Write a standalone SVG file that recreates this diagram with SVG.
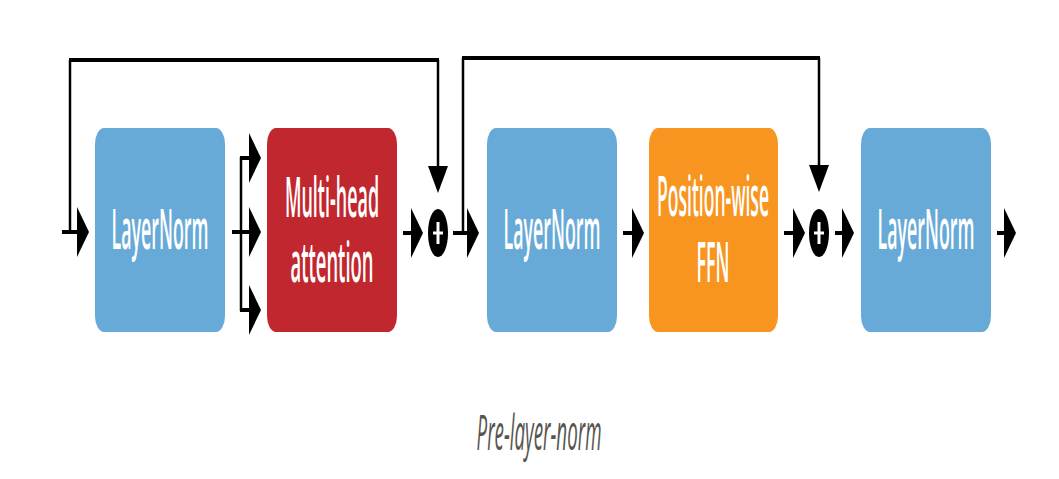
<svg xmlns="http://www.w3.org/2000/svg" xmlns:xlink="http://www.w3.org/1999/xlink" width="1059" height="479" viewBox="0 0 1059 479">
  <style>
    .box-blue { fill: #67aad7; }
    .box-red { fill: #c1272e; }
    .box-orange { fill: #f79520; }
    .lbl { font-family: "Open Sans", "Liberation Sans", sans-serif; font-weight: 600; font-size: 56px; fill: #ffffff; text-anchor: middle; }
    .cap { font-family: "Open Sans", "Liberation Sans", sans-serif; font-style: italic; font-size: 50px; fill: #58554f; text-anchor: middle; }
    .h { stroke: #000; stroke-width: 4; fill: none; }
    .v { stroke: #000; stroke-width: 2.5; fill: none; }
    .plus { stroke: #fff; stroke-width: 3; }
  </style>
  <defs>
    <path id="ahR" d="M0,-25 L12,0 L0,25 Z" fill="#000"/>
    <path id="ahD" d="M-10,0 L10,0 L0,27 Z" fill="#000"/>
  </defs>
  <rect width="1059" height="479" fill="#ffffff"/>

  <g id="connectors">
    <!-- skip 1 -->
    <line class="v" x1="70" y1="232" x2="70" y2="60"/>
    <line class="h" x1="69" y1="60" x2="439" y2="60"/>
    <line class="v" x1="438" y1="60" x2="438" y2="168"/>
    <use xlink:href="#ahD" x="438" y="166"/>
    <!-- input -->
    <line class="h" x1="62" y1="232" x2="78" y2="232"/>
    <use xlink:href="#ahR" x="77" y="232"/>
    <!-- fork to attention -->
    <line class="h" x1="232" y1="232" x2="242" y2="232"/>
    <line class="v" x1="241" y1="157" x2="241" y2="311"/>
    <line class="h" x1="240" y1="158" x2="250" y2="158"/>
    <line class="h" x1="240" y1="232" x2="250" y2="232"/>
    <line class="h" x1="240" y1="310" x2="250" y2="310"/>
    <use xlink:href="#ahR" x="249" y="158"/>
    <use xlink:href="#ahR" x="249" y="232"/>
    <use xlink:href="#ahR" x="249" y="310"/>
    <!-- attention to add -->
    <line class="h" x1="403" y1="233" x2="412" y2="233"/>
    <use xlink:href="#ahR" x="411" y="233"/>
    <!-- add 1 -->
    <g id="add1">
      <ellipse cx="438" cy="233" rx="10" ry="24" fill="#000"/>
      <line class="plus" x1="433" y1="233" x2="443" y2="233"/>
      <line class="plus" x1="438" y1="222" x2="438" y2="244"/>
    </g>
    <!-- add1 to LN2 -->
    <line class="h" x1="453" y1="233" x2="468" y2="233"/>
    <use xlink:href="#ahR" x="467" y="233"/>
    <!-- skip 2 -->
    <line class="v" x1="463" y1="233" x2="463" y2="58"/>
    <line class="h" x1="462" y1="58" x2="820" y2="58"/>
    <line class="v" x1="819" y1="58" x2="819" y2="167"/>
    <use xlink:href="#ahD" x="819" y="165"/>
    <!-- LN2 to FFN -->
    <line class="h" x1="623" y1="233" x2="633" y2="233"/>
    <use xlink:href="#ahR" x="632" y="233"/>
    <!-- FFN to add2 -->
    <line class="h" x1="784" y1="233" x2="794" y2="233"/>
    <use xlink:href="#ahR" x="793" y="233"/>
    <g id="add2">
      <ellipse cx="819" cy="233" rx="10" ry="24" fill="#000"/>
      <line class="plus" x1="814" y1="233" x2="824" y2="233"/>
      <line class="plus" x1="819" y1="222" x2="819" y2="244"/>
    </g>
    <!-- add2 to LN3 -->
    <line class="h" x1="835" y1="233" x2="843" y2="233"/>
    <use xlink:href="#ahR" x="842" y="233"/>
    <!-- output -->
    <line class="h" x1="997" y1="233" x2="1005" y2="233"/>
    <use xlink:href="#ahR" x="1004" y="233"/>
  </g>

  <g id="layernorm1">
    <rect class="box-blue" x="95" y="128" width="130" height="204" rx="9" ry="16"/>
    <text class="lbl" transform="translate(160,249) scale(0.35,1)" textLength="277" lengthAdjust="spacingAndGlyphs">LayerNorm</text>
  </g>
  <g id="attention">
    <rect class="box-red" x="267" y="128" width="130" height="204" rx="9" ry="16"/>
    <text class="lbl" transform="translate(332,217) scale(0.35,1)" textLength="269" lengthAdjust="spacingAndGlyphs">Multi-head</text>
    <text class="lbl" transform="translate(332,282) scale(0.35,1)" textLength="237" lengthAdjust="spacingAndGlyphs">attention</text>
  </g>
  <g id="layernorm2">
    <rect class="box-blue" x="487" y="128" width="130" height="204" rx="9" ry="16"/>
    <text class="lbl" transform="translate(552,249) scale(0.35,1)" textLength="277" lengthAdjust="spacingAndGlyphs">LayerNorm</text>
  </g>
  <g id="ffn">
    <rect class="box-orange" x="649" y="128" width="129" height="204" rx="9" ry="16"/>
    <text class="lbl" transform="translate(713,216) scale(0.35,1)" textLength="320" lengthAdjust="spacingAndGlyphs">Position-wise</text>
    <text class="lbl" transform="translate(713,282) scale(0.35,1)" textLength="94" lengthAdjust="spacingAndGlyphs">FFN</text>
  </g>
  <g id="layernorm3">
    <rect class="box-blue" x="861" y="128" width="130" height="204" rx="9" ry="16"/>
    <text class="lbl" transform="translate(926,249) scale(0.35,1)" textLength="277" lengthAdjust="spacingAndGlyphs">LayerNorm</text>
  </g>

  <text class="cap" transform="translate(539,450) scale(0.35,1)" textLength="357" lengthAdjust="spacingAndGlyphs">Pre-layer-norm</text>
</svg>
